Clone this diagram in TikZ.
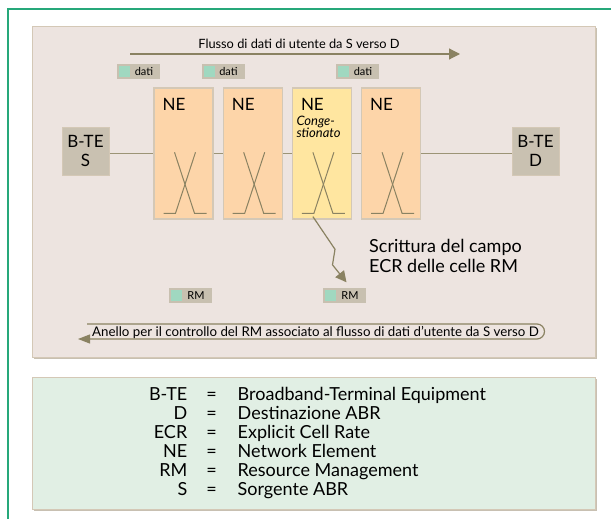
\documentclass[tikz,border=0pt]{standalone}
\usepackage{fontspec}
\setmainfont{Lato}
\usepackage{tikz}
\usetikzlibrary{positioning,arrows.meta,calc,shadows}
\usepackage{xcolor}
\definecolor{framegreen}{RGB}{38,168,122}
\definecolor{panelbg}{RGB}{237,228,224}
\definecolor{panelshade}{RGB}{200,192,178}
\definecolor{legendbg}{RGB}{225,239,228}
\definecolor{neorange}{RGB}{253,213,169}
\definecolor{neyellow}{RGB}{255,230,160}
\definecolor{nerim}{RGB}{212,200,182}
\definecolor{btegray}{RGB}{201,193,177}
\definecolor{taggray}{RGB}{200,192,176}
\definecolor{taggreen}{RGB}{160,216,192}
\definecolor{olive}{RGB}{138,130,98}
\definecolor{linkline}{RGB}{156,148,118}
\tikzset{
  panel/.style={
    fill=panelbg, draw=nerim, line width=0.8pt,
    drop shadow={opacity=1, fill=panelshade, shadow xshift=2pt, shadow yshift=-2pt},
    minimum width=563pt, inner sep=0pt
  },
  nebox/.style={
    fill=neorange, draw=nerim, line width=1.2pt,
    minimum width=59pt, minimum height=131pt, inner sep=0pt
  },
  bte/.style={
    fill=btegray, draw=nerim, line width=1pt,
    minimum width=47pt, minimum height=48pt, inner sep=0pt,
    align=center, font=\fontsize{17}{19}\selectfont
  },
  tag/.style={
    fill=taggray, minimum width=43pt, minimum height=15pt, inner sep=0pt,
    font=\fontsize{11}{12}\selectfont,
    path picture={\fill[taggreen]
      ($(path picture bounding box.north west)+(2,2)$) rectangle
      ($(path picture bounding box.south west)+(13,-2)$);}
  },
  netitle/.style={anchor=base west, inner sep=0pt, font=\fontsize{17}{19}\selectfont},
  congtext/.style={anchor=base west, inner sep=0pt, align=left,
    font=\fontsize{13}{12}\selectfont\itshape},
  flowtext/.style={inner sep=0pt, font=\fontsize{12.8}{14}\selectfont},
  link/.style={draw=linkline, line width=1.2pt},
  xline/.style={draw=olive, line width=1pt},
  flowarrow/.style={draw=olive, line width=1.2pt,
    -{Triangle[length=11pt,width=11pt]}, color=olive},
  loopline/.style={draw=olive, line width=1.2pt, rounded corners=7.5pt,
    -{Triangle[length=12pt,width=9pt]}, color=olive}
}

\begin{document}
\begin{tikzpicture}[x=1pt, y=-1pt]
  \useasboundingbox (0,0) rectangle (611,519);
  \draw[framegreen, line width=1.2pt] (611,9) -- (8,9) -- (8,519);

  % panels
  \node[panel, minimum height=331pt] (flowpanel) at (313.5,191.5) {};
  \node[panel, fill=legendbg, minimum height=132pt] (legend) at (313.5,443) {};

  % user data flow
  \coordinate (flowtail) at (130,54);
  \coordinate (flowhead) at (460,54);
  \draw[flowarrow] (flowtail) -- (flowhead);
  \node[flowtext, anchor=base] (flowlabel) at (299,49) {Flusso di dati di utente da S verso D};

  \node[tag] (dati1) at (138.5,71.5) {\hspace{11pt}dati};
  \node[tag] (dati2) at (223,71.5) {\hspace{11pt}dati};
  \node[tag] (dati3) at (357.5,71.5) {\hspace{11pt}dati};

  % network elements
  \node[nebox] (ne1) at (183.5,153.5) {};
  \node[nebox, right=9pt of ne1] (ne2) {};
  \node[nebox, fill=neyellow, right=9pt of ne2] (ne3) {};
  \node[nebox, right=9pt of ne3] (ne4) {};

  \node[netitle] (ne1t) at ($(ne1.north west)+(9,23)$) {NE};
  \node[netitle] (ne2t) at ($(ne2.north west)+(9,23)$) {NE};
  \node[netitle] (ne3t) at ($(ne3.north west)+(9,23)$) {NE};
  \node[netitle] (ne4t) at ($(ne4.north west)+(9,23)$) {NE};
  \node[congtext] (ne3c) at ($(ne3.north west)+(4.5,50.5)$) {Conge-\\stionato};

  \foreach \n in {ne1,ne2,ne3,ne4}{
    \draw[xline] ($(\n.south)+(-20,-6.3)$) -- ++(12,0) -- ++(20,-61);
    \draw[xline] ($(\n.south)+(-9,-67.3)$) -- ++(20,61) -- ++(12,0);
  }

  \node[bte] (btes) at (85.5,151) {B-TE\\S};
  \node[bte] (bted) at (535.5,151) {B-TE\\D};

  \draw[link] (btes.east |- ne1.west) -- (ne1.west);
  \draw[link] (ne1) -- (ne2);
  \draw[link] (ne2) -- (ne3);
  \draw[link] (ne3) -- (ne4);
  \draw[link] (ne4.east) -- (bted.west |- ne4.east);

  % RM cells
  \node[tag] (rm1) at (190.5,295.5) {\hspace{11pt}RM};
  \node[tag] (rm2) at (344.5,295.5) {\hspace{11pt}RM};

  \draw[flowarrow] ($(ne3.south)+(-9,-3)$) -- ($(rm2.north)+(-9.5,-38.5)$)
    -- ($(rm2.north)+(-12,-23)$) -- ($(rm2.north)+(2,-5.5)$);
  \node[anchor=base west, inner sep=0pt, align=left,
    font=\fontsize{18}{19.5}\selectfont] (ecrnote) at (369,272)
    {Scrittura del campo\\ECR delle celle RM};

  % control loop
  \node[anchor=base west, inner sep=0pt, font=\fontsize{13.3}{15}\selectfont]
    (looplabel) at (92,336.5)
    {Anello per il controllo del RM associato al flusso di dati d'utente da S verso D};
  \coordinate (looptop) at (87,324);
  \coordinate (looptip) at (78,339);
  \draw[loopline] (looptop) -- (544.5,324) -- (544.5,339) -- (looptip);

  % legend
  \node[inner sep=0pt, font=\fontsize{18}{19}\selectfont] (legendtext) at (317.5,444)
    {\begin{tabular}{@{}r@{\hspace{19pt}}c@{\hspace{21pt}}l@{}}
      B-TE & = & Broadband-Terminal Equipment\\
      D & = & Destinazione ABR\\
      ECR & = & Explicit Cell Rate\\
      NE & = & Network Element\\
      RM & = & Resource Management\\
      S & = & Sorgente ABR
    \end{tabular}};
\end{tikzpicture}
\end{document}
